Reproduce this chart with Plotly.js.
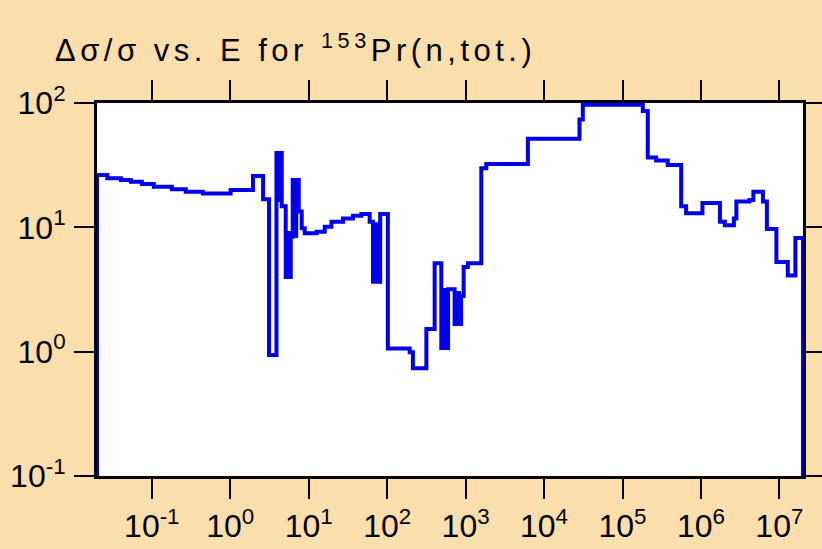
<!DOCTYPE html>
<html>
<head>
<meta charset="utf-8">
<script src="https://cdn.plot.ly/plotly-3.0.1.min.js"></script>
<style>
html,body{margin:0;padding:0;background:#FDDEAD;}
#chart .gtitle{letter-spacing:4.5px;}
</style>
</head>
<body>
<div id="chart" style="width:822px;height:549px;"></div>
<script>
// Bin lower edges (eV) and relative uncertainty values (%) for 153Pr(n,tot.)
const energy = [0.02, 0.02, 0.0271, 0.0403, 0.054, 0.0746, 0.106, 0.180, 0.271, 0.447, 1.01,
  1.95, 2.62, 3.12, 3.88, 4.15, 4.27, 4.53, 5.09, 5.40, 5.64, 5.90, 6.25, 6.63, 6.93, 7.46,
  8.14, 8.89, 12.6, 16.0, 19.5, 27.4, 36.6, 46.9, 59.8, 65.9, 72.4, 75.7, 81.5,
  102, 194, 213, 316, 403, 490, 532, 556, 598, 724, 791, 826, 877, 944, 1070,
  1585, 1835, 6220, 28300, 31200, 181500, 210000, 268700, 377600, 560000, 647000,
  1.045e6, 1.746e6, 2.02e6, 2.63e6, 2.83e6, 4.15e6, 4.66e6, 6.17e6, 6.93e6, 9.16e6,
  1.28e7, 1.60e7, 2.0e7];
const relUnc = [0.01, 26.4, 24.8, 24.0, 23.3, 22.3, 21.2, 20.2, 19.35, 18.7, 19.95,
  25.9, 16.8, 0.94, 39.6, 16.6, 39.6, 14.8, 3.99, 9.0, 3.99, 8.41, 24.0, 8.51, 24.0, 13.4,
  9.82, 8.96, 9.22, 10.1, 11.1, 11.8, 12.4, 12.8, 11.1, 3.65, 10.6, 3.65, 12.8,
  1.06, 0.99, 0.735, 1.52, 5.14, 1.07, 3.13, 1.07, 3.17, 1.67, 2.96, 1.67, 2.80, 4.80, 5.14,
  29.8, 32.3, 51.5, 73.7, 97, 86.2, 36.4, 34.5, 31.7, 14.8, 13.0,
  15.7, 11.1, 10.4, 11.8, 16.1, 16.6, 19.35, 16.1, 9.7, 5.26,
  4.10, 8.21, 0.01];
const xTickVals = [0.1, 1, 10, 100, 1000, 1e4, 1e5, 1e6, 1e7];
const xTickText = ['10<sup>-1</sup>', '10<sup>0</sup>', '10<sup>1</sup>', '10<sup>2</sup>',
  '10<sup>3</sup>', '10<sup>4</sup>', '10<sup>5</sup>', '10<sup>6</sup>', '10<sup>7</sup>'];
const yTickVals = [0.1, 1, 10, 100];
const yTickText = ['10<sup>-1</sup>', '10<sup>0</sup>', '10<sup>1</sup>', '10<sup>2</sup>'];

const font = 'Liberation Sans, Arial, sans-serif';
const trace = {
  x: energy, y: relUnc, type: 'scatter', mode: 'lines',
  line: {shape: 'hv', color: 'rgb(0,0,232)', width: 4},
  hoverinfo: 'x+y'
};
const axisCommon = {
  type: 'log', showline: true, linewidth: 3, linecolor: 'black', mirror: 'allticks',
  ticks: 'outside', ticklen: 20, tickwidth: 2, tickcolor: 'black',
  showgrid: false, zeroline: false,
  tickfont: {family: font, size: 32, color: 'black'}
};
const layout = {
  width: 822, height: 549,
  margin: {l: 97, r: 19, t: 103, b: 73, pad: 0},
  paper_bgcolor: '#FDDEAD', plot_bgcolor: 'white',
  showlegend: false,
  title: {text: 'Δσ/σ vs. E for <sup>153</sup>Pr(n,tot.)', font: {family: font, size: 31, color: 'black'},
    x: 55/822, xref: 'container', xanchor: 'left', y: 1 - 50/549, yref: 'container', yanchor: 'middle'},
  xaxis: Object.assign({}, axisCommon, {range: [Math.log10(0.02), Math.log10(2e7)],
    tickmode: 'array', tickvals: xTickVals, ticktext: xTickText}),
  yaxis: Object.assign({}, axisCommon, {range: [-1, 2], ticklabelstandoff: 2,
    tickmode: 'array', tickvals: yTickVals, ticktext: yTickText})
};
Plotly.newPlot('chart', [trace], layout, {displayModeBar: false, staticPlot: true});
</script>
</body>
</html>
